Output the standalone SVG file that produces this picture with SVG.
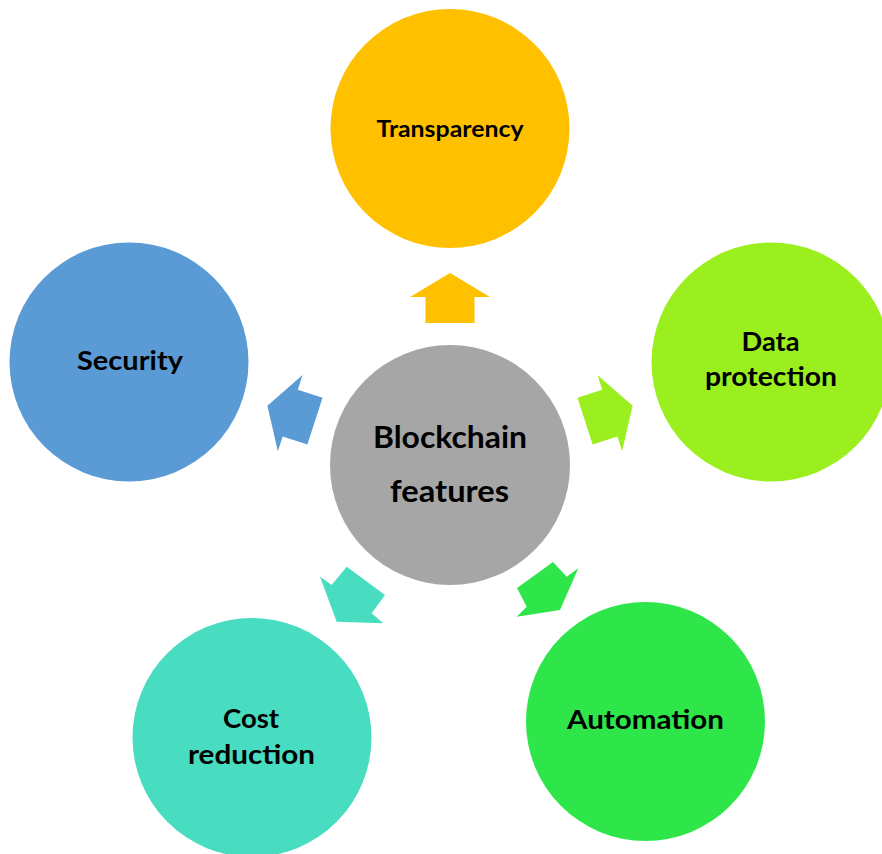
<svg xmlns="http://www.w3.org/2000/svg" width="882" height="854" viewBox="0 0 882 854">
  <style>
    .lbl { font-family: Lato, "Open Sans", "Liberation Sans", sans-serif; font-weight: 700; fill: #000; text-anchor: middle; }
    .s26 { font-size: 26px; }
  </style>
  <defs>
    <path id="arrowUp" d="M 0 -192 L 40 -168 L 24.5 -168 L 24.5 -142 L -24.5 -142 L -24.5 -168 L -40 -168 Z"/>
  </defs>
  <rect width="882" height="854" fill="#ffffff"/>

  <g id="connectors">
    <use href="#arrowUp" fill="#FFC000" transform="translate(450 465)"/>
    <use href="#arrowUp" fill="#9BEF1F" transform="translate(450 465) rotate(72)"/>
    <use href="#arrowUp" fill="#5B9BD5" transform="translate(450 465) rotate(-72)"/>
    <polygon fill="#2EE64A" points="553,562 566.7,576.7 578.3,568.3 560,610 516.7,616.7 526.7,606.7 517,588"/>
    <polygon fill="#48DCC0" points="346.7,566.7 385,595 371.7,613.3 383.3,623.3 336.7,621.7 320,576.7 331.7,585"/>
  </g>

  <g id="center">
    <circle cx="450" cy="465" r="120" fill="#A6A6A6"/>
    <text class="lbl" x="450" y="448" font-size="30" textLength="154" lengthAdjust="spacingAndGlyphs">Blockchain</text>
    <text class="lbl" x="449.5" y="502" font-size="30" textLength="119" lengthAdjust="spacingAndGlyphs">features</text>
  </g>

  <g id="transparency">
    <circle cx="450" cy="128.5" r="119.5" fill="#FFC000"/>
    <text class="lbl" x="450" y="137" font-size="23" textLength="147" lengthAdjust="spacingAndGlyphs">Transparency</text>
  </g>

  <g id="data-protection">
    <circle cx="771" cy="362" r="119.5" fill="#9BEF1F"/>
    <text class="lbl s26" x="770.5" y="351" textLength="58" lengthAdjust="spacingAndGlyphs">Data</text>
    <text class="lbl s26" x="771" y="386" textLength="132" lengthAdjust="spacingAndGlyphs">protection</text>
  </g>

  <g id="automation">
    <circle cx="645.5" cy="721.5" r="119.5" fill="#2EE64A"/>
    <text class="lbl s26" x="645.5" y="729" textLength="157" lengthAdjust="spacingAndGlyphs">Automation</text>
  </g>

  <g id="cost-reduction">
    <circle cx="252" cy="737.5" r="119.5" fill="#48DCC0"/>
    <text class="lbl s26" x="251" y="728" textLength="56" lengthAdjust="spacingAndGlyphs">Cost</text>
    <text class="lbl s26" x="251.5" y="764" textLength="127" lengthAdjust="spacingAndGlyphs">reduction</text>
  </g>

  <g id="security">
    <circle cx="129" cy="362" r="119.5" fill="#5B9BD5"/>
    <text class="lbl s26" x="130" y="370" textLength="106" lengthAdjust="spacingAndGlyphs">Security</text>
  </g>
</svg>
